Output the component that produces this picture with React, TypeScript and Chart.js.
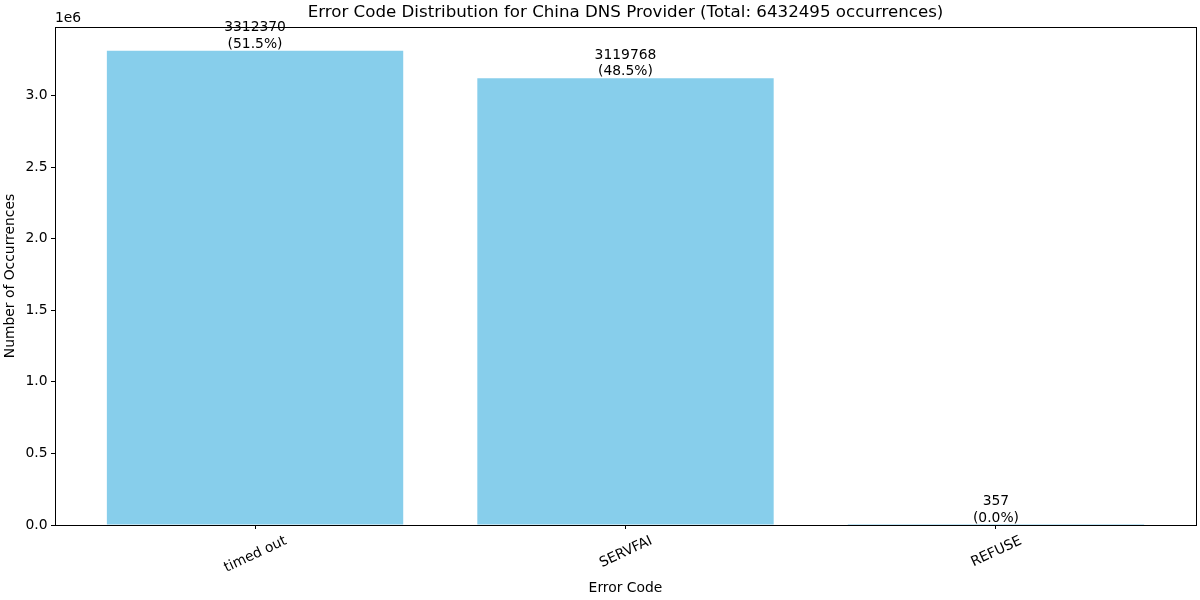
import React, { useEffect, useRef } from "react";
import { Chart, registerables } from "chart.js";

Chart.register(...registerables);

const categories: string[] = ["timed out", "SERVFAI", "REFUSE"];
const counts: number[] = [3312370, 3119768, 357];
const yTickStep = 500000;
const barColor = "#87CEEB";

const FONT = "DejaVu Sans";
const PT10 = 13.89;
const PT12 = 16.67;

export default function App() {
  const ref = useRef<HTMLCanvasElement | null>(null);

  useEffect(() => {
    const canvas = ref.current;
    if (!canvas) return;
    const total = counts.reduce((a, b) => a + b, 0);
    const n = categories.length;
    const xMargin = 0.05 * (n - 1 + 0.8);
    const yMax = Math.max(...counts) * 1.05;

    const overlay = {
      id: "overlay",
      afterDraw(chart: any) {
        const ctx = chart.ctx as CanvasRenderingContext2D;
        const area = chart.chartArea;
        const xs = chart.scales.x;
        const ys = chart.scales.y;
        ctx.save();
        ctx.strokeStyle = "#000";
        ctx.lineWidth = 1;
        ctx.strokeRect(
          Math.round(area.left) + 0.5,
          Math.round(area.top) + 0.5,
          Math.round(area.right - area.left),
          Math.round(area.bottom - area.top)
        );
        ctx.fillStyle = "#000";
        ctx.font = `${PT10}px '${FONT}'`;
        ctx.textAlign = "center";
        ctx.textBaseline = "alphabetic";
        counts.forEach((v, i) => {
          const x = xs.getPixelForValue(i);
          const y = ys.getPixelForValue(v);
          const pct = ((v / total) * 100).toFixed(1);
          ctx.fillText(`(${pct}%)`, x, y - 3);
          ctx.fillText(String(v), x, y - 3 - PT10 * 1.2);
        });
        const rot = (25 * Math.PI) / 180;
        let maxBottom = area.bottom;
        const labelTop = area.bottom + 7;
        categories.forEach((c, i) => {
          const x = xs.getPixelForValue(i);
          const w = ctx.measureText(c).width;
          const h = PT10 * 1.17;
          const bh = w * Math.sin(rot) + h * Math.cos(rot);
          const cy = labelTop + bh / 2;
          maxBottom = Math.max(maxBottom, labelTop + bh);
          ctx.save();
          ctx.translate(x, cy);
          ctx.rotate(-rot);
          ctx.textAlign = "center";
          ctx.textBaseline = "middle";
          ctx.fillText(c, 0, 1);
          ctx.restore();
        });
        ctx.textAlign = "center";
        ctx.textBaseline = "top";
        ctx.fillText("Error Code", (area.left + area.right) / 2, maxBottom + 6);
        ctx.save();
        ctx.translate(10, (area.top + area.bottom) / 2);
        ctx.rotate(-Math.PI / 2);
        ctx.textAlign = "center";
        ctx.textBaseline = "middle";
        ctx.fillText("Number of Occurrences", 0, 0);
        ctx.restore();
        ctx.textAlign = "left";
        ctx.textBaseline = "alphabetic";
        ctx.fillText("1e6", area.left, area.top - 5);
        ctx.font = `${PT12}px '${FONT}'`;
        ctx.textAlign = "center";
        ctx.fillText(
          `Error Code Distribution for China DNS Provider (Total: ${total} occurrences)`,
          (area.left + area.right) / 2,
          area.top - 10.5
        );
        ctx.restore();
      },
    };

    const chart = new Chart(canvas, {
      type: "bar",
      data: {
        datasets: [
          {
            data: counts.map((v, i) => ({ x: i, y: v })),
            backgroundColor: barColor,
            borderWidth: 0,
            categoryPercentage: 0.8,
            barPercentage: 1.0,
          },
        ],
      },
      options: {
        responsive: false,
        animation: false,
        layout: { padding: { top: 27, right: 4, left: 0, bottom: 0 } },
        plugins: {
          legend: { display: false },
          tooltip: { enabled: false },
          title: { display: false },
        },
        scales: {
          x: {
            type: "linear",
            offset: false,
            min: -0.4 - xMargin,
            max: n - 1 + 0.4 + xMargin,
            afterBuildTicks: (scale: any) => {
              scale.ticks = categories.map((_, i) => ({ value: i }));
            },
            afterFit: (scale: any) => {
              scale.height = 75;
            },
            ticks: { display: false },
            grid: {
              display: true,
              offset: false,
              drawOnChartArea: false,
              drawTicks: true,
              tickLength: 4,
              color: "#000",
              lineWidth: 1,
            },
            border: { display: true, color: "#000", width: 1 },
          },
          y: {
            type: "linear",
            min: 0,
            max: yMax,
            afterBuildTicks: (scale: any) => {
              const t: { value: number }[] = [];
              for (let k = 0; k * yTickStep <= yMax; k++) t.push({ value: k * yTickStep });
              scale.ticks = t;
            },
            afterFit: (scale: any) => {
              scale.width = 55;
            },
            ticks: {
              autoSkip: false,
              padding: 3.5,
              color: "#000",
              font: { family: FONT, size: PT10 },
              callback: (v: any) => (Number(v) / 1e6).toFixed(1),
            },
            grid: {
              display: true,
              drawOnChartArea: false,
              drawTicks: true,
              tickLength: 4,
              color: "#000",
              lineWidth: 1,
            },
            border: { display: true, color: "#000", width: 1 },
          },
        },
      },
      plugins: [overlay],
    } as any);

    return () => chart.destroy();
  }, []);

  return (
    <div style={{ position: "fixed", left: 0, top: 0, width: 1200, height: 600, background: "#fff" }}>
      <canvas ref={ref} width={1200} height={600} />
    </div>
  );
}
